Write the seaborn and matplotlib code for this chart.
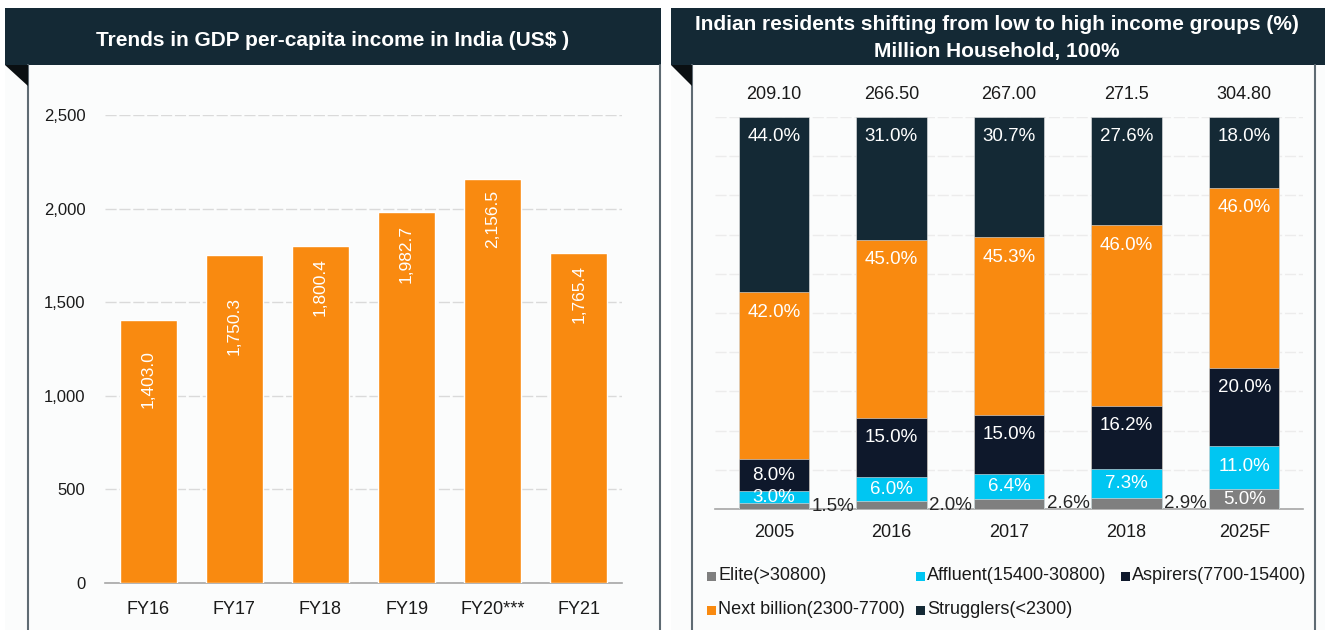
import numpy as np
import pandas as pd
import matplotlib
matplotlib.use("Agg")
import matplotlib.pyplot as plt
from matplotlib.patches import Rectangle, Polygon
from matplotlib.ticker import FuncFormatter, FixedLocator
import seaborn as sns

# data - left chart
fiscal_years = ["FY16", "FY17", "FY18", "FY19", "FY20***", "FY21"]
gdp_per_capita = [1403.0, 1750.3, 1800.4, 1982.7, 2156.5, 1765.4]

# data - right chart (stack order bottom -> top)
years = ["2005", "2016", "2017", "2018", "2025F"]
elite = [1.5, 2.0, 2.6, 2.9, 5.0]
affluent = [3.0, 6.0, 6.4, 7.3, 11.0]
aspirers = [8.0, 15.0, 15.0, 16.2, 20.0]
next_billion = [42.0, 45.0, 45.3, 46.0, 46.0]
strugglers = [44.0, 31.0, 30.7, 27.6, 18.0]
households = ["209.10", "266.50", "267.00", "271.5", "304.80"]
group_names = ["Elite(>30800)", "Affluent(15400-30800)", "Aspirers(7700-15400)",
               "Next billion(2300-7700)", "Strugglers(<2300)"]

ORANGE = "#F98A10"
DARK = "#142935"
NAVY = "#0E182B"
CYAN = "#00C6F2"
GREY = "#7F7F7F"
group_colors = [GREY, CYAN, NAVY, ORANGE, DARK]

sns.set_style("white")
plt.rcParams["font.family"] = ["Liberation Sans", "DejaVu Sans"]

W, H = 1325, 630
fig = plt.figure(figsize=(W / 100, H / 100), dpi=100, facecolor="white")


def fx(px):
    return px / W


def fy(py):
    return 1 - py / H


def rect(x0, y0, x1, y1, **kw):
    fig.add_artist(Rectangle((fx(x0), fy(y1)), fx(x1) - fx(x0), fy(y0) - fy(y1),
                             transform=fig.transFigure, **kw))


# panel backgrounds, borders, title bars
for (x0, x1) in [(5, 661), (671, 1325)]:
    rect(x0, 65, x1, 630, facecolor="#FBFCFC", edgecolor="none", zorder=0)
    rect(x0, 8, x1, 65, facecolor=DARK, edgecolor="none", zorder=1)
for (x0, xl, xr) in [(5, 28, 660), (671, 692, 1315)]:
    fig.add_artist(plt.Line2D([fx(xl), fx(xl)], [fy(65), fy(630)], color="#5F6B73",
                              lw=1.5, transform=fig.transFigure, zorder=2))
    fig.add_artist(plt.Line2D([fx(xr), fx(xr)], [fy(65), fy(630)], color="#5F6B73",
                              lw=1.5, transform=fig.transFigure, zorder=2))
    fig.add_artist(Polygon([(fx(x0), fy(65)), (fx(xl), fy(65)), (fx(xl), fy(86))],
                           closed=True, facecolor="#0A0F12", edgecolor="none",
                           transform=fig.transFigure, zorder=2))

fig.text(fx(333), fy(40), "Trends in GDP per-capita income in India (US$ )", color="white",
         fontsize=15, fontweight="bold", ha="center", va="center")
fig.text(fx(997), fy(25), "Indian residents shifting from low to high income groups (%)",
         color="white", fontsize=15, fontweight="bold", ha="center", va="center")
fig.text(fx(997), fy(52), "Million Household, 100%", color="white", fontsize=15,
         fontweight="bold", ha="center", va="center")

# ---------------- left chart ----------------
ax1 = fig.add_axes([fx(105), fy(583), fx(622) - fx(105), fy(115) - fy(583)])
ax1.set_facecolor("none")
df1 = pd.DataFrame({"fy": fiscal_years, "gdp": gdp_per_capita})
sns.barplot(data=df1, x="fy", y="gdp", color=ORANGE, saturation=1, width=0.66,
            errorbar=None, ax=ax1, zorder=3)
ax1.set_xlim(-0.5, len(fiscal_years) - 0.5)
ax1.set_ylim(0, 2500)
ax1.set_yticks(np.arange(0, 2501, 500))
ax1.yaxis.set_major_formatter(FuncFormatter(lambda v, p: f"{v:,.0f}"))
ax1.yaxis.grid(True, color="#DADADA", lw=1, linestyle=(0, (8, 2)))
ax1.set_axisbelow(True)
ax1.set_xlabel("")
ax1.set_ylabel("")
label_pad = [30, 42, 12, 13, 11, 12]
for i, v in enumerate(gdp_per_capita):
    ax1.annotate(f"{v:,.1f}", (i, v), xytext=(0, -label_pad[i]), textcoords="offset pixels",
                 rotation=90, ha="center", va="top", color="white", fontsize=12.5, zorder=5)

# ---------------- right chart ----------------
ax2 = fig.add_axes([fx(715), fy(509), fx(1303) - fx(715), fy(117) - fy(509)])
ax2.set_facecolor("none")
layers = np.array([elite, affluent, aspirers, next_billion, strugglers])
share = layers / layers.sum(axis=0) * 100
cum = np.cumsum(share, axis=0)
for k in range(len(layers) - 1, -1, -1):
    sns.barplot(x=years, y=cum[k], color=group_colors[k], saturation=1, width=0.6,
                errorbar=None, ax=ax2, zorder=3, edgecolor="#E8E8E8", linewidth=0.4)
ax2.set_xlim(-0.5, len(years) - 0.5)
ax2.set_ylim(0, 100)
ax2.set_yticks(np.arange(0, 101, 10))
ax2.set_yticklabels([])
ax2.yaxis.grid(True, color="#ECECEC", lw=1, linestyle=(0, (8, 2)))
ax2.set_axisbelow(True)

for i in range(len(years)):
    for k in range(len(layers)):
        top = cum[k, i]
        bottom = top - share[k, i]
        mid = (top + bottom) / 2
        txt = f"{layers[k, i]:.1f}%"
        if k == 0 and layers[k, i] < 4:
            ax2.text(i + 0.32, mid, txt, ha="left", va="center", color="#262626",
                     fontsize=13.5, zorder=5)
        else:
            ax2.text(i, max(top - 5.1, mid), txt, ha="center", va="center", color="white",
                     fontsize=13.5, zorder=5)
    ax2.text(i, 105.8, households[i], ha="center", va="center", color="#1A1A1A",
             fontsize=13, clip_on=False)

# common axis styling
for ax, pad in [(ax1, 13), (ax2, 11)]:
    n = len(ax.get_xticks())
    sns.despine(ax=ax, left=True)
    ax.spines["bottom"].set_color("#A6A6A6")
    ax.spines["bottom"].set_linewidth(1.2)
    ax.xaxis.set_minor_locator(FixedLocator(np.arange(-0.5, n, 1.0)))
    ax.tick_params(axis="x", which="major", length=0, pad=pad, labelsize=13, colors="#1A1A1A")
    ax.tick_params(axis="x", which="minor", length=6, width=1.2, color="#A6A6A6", direction="out")
    ax.tick_params(axis="y", length=0, labelsize=12, pad=14, colors="#1A1A1A")
    ax.set_xlabel("")

# legend (manual 3-column grid)
col_x = [707, 916, 1121]
row_y = [576, 610]
for j, (name, col) in enumerate(zip(group_names, group_colors)):
    cx = col_x[j % 3]
    cy = row_y[j // 3]
    rect(cx, cy - 4.5, cx + 9, cy + 4.5, facecolor=col, edgecolor="none", zorder=3)
    fig.text(fx(cx + 11), fy(cy), name, fontsize=13, color="#1A1A1A", ha="left", va="center")

fig.savefig("out.png", dpi=100, facecolor="white")
